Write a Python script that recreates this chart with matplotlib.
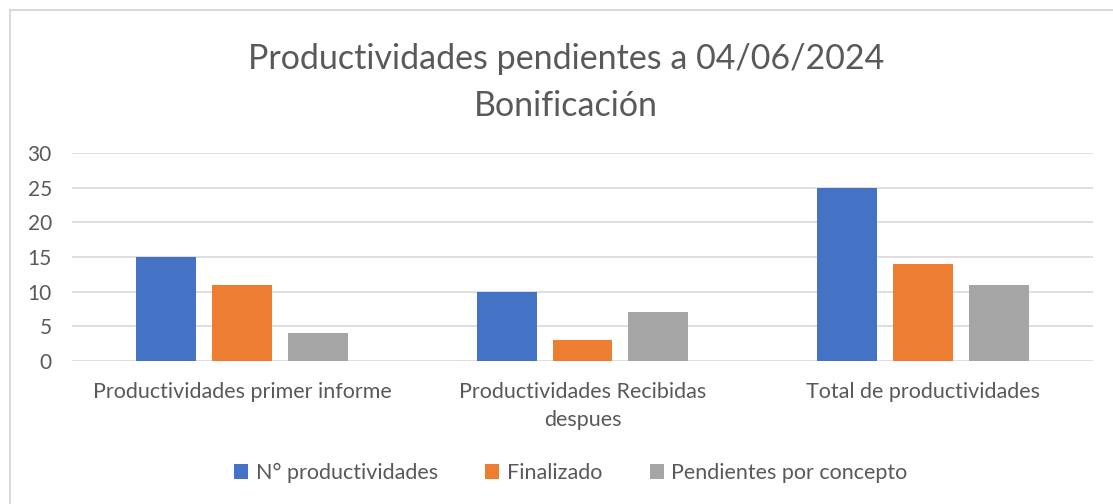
import matplotlib.pyplot as plt
import matplotlib.patches as mpatches
import numpy as np

categories = [
    "Productividades primer informe",
    "Productividades Recibidas\ndespues",
    "Total de productividades",
]
series_names = ["N° productividades", "Finalizado", "Pendientes por concepto"]
n_productividades = [15, 10, 25]
finalizado = [11, 3, 14]
pendientes = [4, 7, 11]
y_ticks = [0, 5, 10, 15, 20, 25, 30]

colors = ["#4472C4", "#ED7D31", "#A5A5A5"]
text_gray = "#595959"
grid_gray = "#D9D9D9"

plt.rcParams["font.family"] = ["Lato", "DejaVu Sans"]

W, H = 1113, 504
fig = plt.figure(figsize=(W / 100, H / 100), dpi=100)

# chart border (only top and left edges visible in the reference)
fig.patches.append(
    mpatches.Rectangle(
        (10 / W, -0.5), 2.0, 1.5 - 10 / H,
        transform=fig.transFigure, fill=False, edgecolor=grid_gray, lw=1.5,
    )
)

ax = fig.add_axes([72 / W, 1 - 361 / H, (1093 - 72) / W, (361 - 153) / H])

x = np.arange(len(categories))
bw = 0.176
step = 0.223
for i, (vals, name) in enumerate(zip([n_productividades, finalizado, pendientes], series_names)):
    ax.bar(x + (i - 1) * step, vals, width=bw, color=colors[i], label=name, zorder=3)

ax.set_xlim(-0.5, len(categories) - 0.5)
ax.set_ylim(0, 30)
ax.set_yticks(y_ticks)
ax.set_yticklabels([str(v) for v in y_ticks], fontsize=15, color=text_gray)
ax.set_xticks(x)
ax.set_xticklabels(categories, fontsize=15.5, color=text_gray, linespacing=1.5)
ax.tick_params(axis="both", length=0)
ax.tick_params(axis="y", pad=14.5)
ax.tick_params(axis="x", pad=15)
for s in ax.spines.values():
    s.set_visible(False)
ax.grid(axis="y", color=grid_gray, lw=1.2, zorder=0)
ax.set_axisbelow(True)

fig.text(566 / W, 1 - 59 / H, "Productividades pendientes a 04/06/2024",
         ha="center", va="center", fontsize=24.5, color=text_gray)
fig.text(566 / W, 1 - 106 / H, "Bonificación",
         ha="center", va="center", fontsize=24.5, color=text_gray)

fig.legend(loc="center", bbox_to_anchor=(571 / W, 1 - 473 / H), ncol=3, frameon=False,
           fontsize=15.5, labelcolor=text_gray, handlelength=0.65, handleheight=0.65,
           handletextpad=0.35, columnspacing=2.2)

fig.savefig("out.png", dpi=100)
